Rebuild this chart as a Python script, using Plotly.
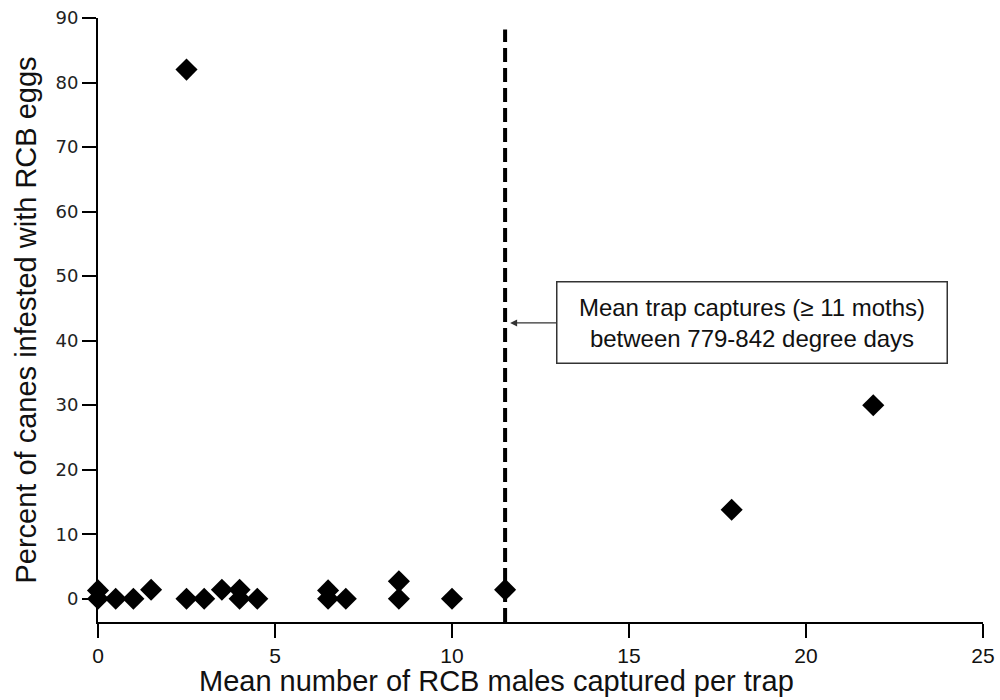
import plotly.graph_objects as go

# Data
trap_captures = [0, 0, 0.5, 1.0, 1.5, 2.5, 2.5, 3.0, 3.5, 4.0, 4.0, 4.5,
                 6.5, 6.5, 7.0, 8.5, 8.5, 10.0, 11.5, 17.9, 21.9]
pct_infested = [1.3, 0.0, 0.0, 0.0, 1.4, 82.0, 0.0, 0.0, 1.4, 1.4, 0.0, 0.0,
                1.3, 0.0, 0.0, 2.7, 0.0, 0.0, 1.4, 13.8, 30.0]
threshold_x = 11.5
x_ticks = [0, 5, 10, 15, 20, 25]
y_ticks = [0, 10, 20, 30, 40, 50, 60, 70, 80, 90]

fig = go.Figure()

fig.add_shape(type="line", xref="x", yref="y", x0=threshold_x, x1=threshold_x,
              y0=-3.6, y1=88.2, line=dict(color="black", width=4, dash="14px,6px"))

fig.add_trace(go.Scatter(
    x=trap_captures, y=pct_infested, mode="markers",
    marker=dict(symbol="diamond", size=17, color="black"),
    showlegend=False, cliponaxis=False,
))

fig.add_annotation(
    x=threshold_x, y=42.75, xref="x", yref="y",
    ax=12.94, ay=42.75, axref="x", ayref="y",
    text="Mean trap captures (≥ 11 moths)<br>between 779-842 degree days",
    showarrow=True, arrowhead=2, arrowsize=1, arrowwidth=1.4, arrowcolor="#333",
    standoff=5, xanchor="left", align="center", width=367,
    font=dict(family="Liberation Sans, Arial, sans-serif", size=24, color="#111"),
    bordercolor="#333", borderwidth=1.5, borderpad=11, bgcolor="white",
)

# x-axis title (placed slightly left of the plot centre, as in the reference)
fig.add_annotation(
    text="Mean number of RCB males captured per trap",
    xref="paper", yref="paper", x=0.4508, y=-0.098,
    xanchor="center", yanchor="middle", showarrow=False,
    font=dict(family="Liberation Sans, Arial, sans-serif", size=29, color="#111"),
)

fig.update_xaxes(
    range=[0, 25], tickvals=x_ticks, ticks="outside", ticklen=14, tickwidth=1.5,
    tickcolor="black", showline=True, linecolor="black", linewidth=2,
    showgrid=False, zeroline=False, automargin=False,
    tickfont=dict(family="Liberation Sans Narrow, Arial Narrow, Liberation Sans, sans-serif", size=21, color="#111"),
)
fig.update_yaxes(
    range=[-3.6, 90], tickvals=y_ticks, ticks="outside", ticklen=14, tickwidth=1.5,
    tickcolor="black", showline=True, linecolor="black", linewidth=2,
    showgrid=False, zeroline=False, automargin=False,
    tickfont=dict(family="DejaVu Sans, sans-serif", size=18, color="#222"),
    title=dict(text="Percent of canes infested with RCB eggs", standoff=10,
               font=dict(family="Liberation Sans, Arial, sans-serif", size=29, color="#111")),
)

fig.update_layout(
    width=1000, height=700,
    margin=dict(l=98, r=17, t=18, b=78),
    paper_bgcolor="white", plot_bgcolor="white",
)

fig.write_html("out.html")
